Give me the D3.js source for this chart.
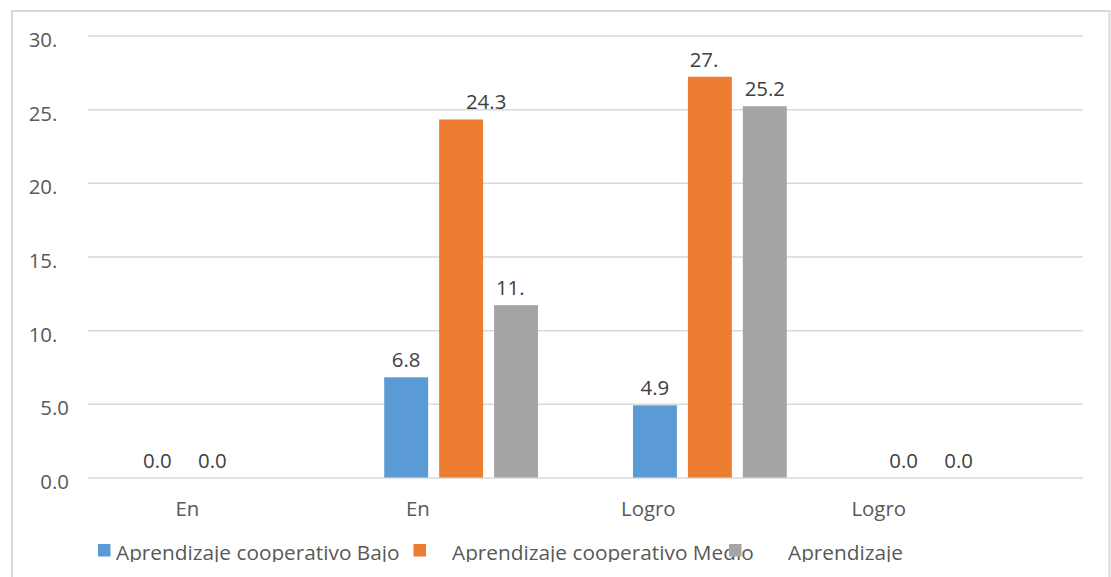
<!DOCTYPE html>
<html>
<head>
<meta charset="utf-8">
<script src="https://cdn.jsdelivr.net/npm/d3@7"></script>
<style>
  body { margin: 0; background: #fff; }
  text { font-family: 'Open Sans', sans-serif; }
</style>
</head>
<body>
<div id="chart"></div>
<script>
// Chart data
const categories = ['En', 'En', 'Logro', 'Logro']
const seriesNames = ['Aprendizaje cooperativo Bajo', 'Aprendizaje cooperativo Medio', 'Aprendizaje']
const bajo = [0.0, 6.8, 4.9, 0.0]
const medio = [0.0, 24.3, 27.2, 0.0]
const alto = [null, 11.7, 25.2, null]
// labels as the original shows them (some are cut short)
const bajoLabels = ['0.0', '6.8', '4.9', '0.0']
const medioLabels = ['0.0', '24.3', '27.', '0.0']
const altoLabels = [null, '11.', '25.2', null]
const yTicks = [0, 5, 10, 15, 20, 25, 30]
const yTickLabels = ['0.0', '5.0', '10.', '15.', '20.', '25.', '30.']

const colors = ['#5B9BD5', '#ED7D31', '#A5A5A5']

const width = 1111,
  height = 577,
  plotLeft = 88,
  plotRight = 1083,
  plotTop = 35.5,
  plotBottom = 477.5

const fontSize = 20.4,
  legendFontSize = 20.8

// one data label was dragged sideways in the original
const labelNudge = { '1-1': 25 }

const fmt = d3.format('.1f')

let svg = d3.select('#chart')
  .append('svg')
  .attr('width', width)
  .attr('height', height)

// chart frame
svg.append('rect')
  .attr('x', 12)
  .attr('y', 11)
  .attr('width', 1097.5)
  .attr('height', 620)
  .attr('fill', 'none')
  .attr('stroke', '#d9d9d9')
  .attr('stroke-width', 2)

let x0 = d3.scaleBand()
  .domain(d3.range(categories.length))
  .range([plotLeft, plotRight])

let x1 = d3.scaleBand()
  .domain(d3.range(seriesNames.length))
  .range([0, x0.bandwidth()])
  .paddingInner(0.2)
  .paddingOuter(0.864)

let yScale = d3.scaleLinear()
  .domain([0, 30])
  .range([plotBottom, plotTop])

// y axis + gridlines
let y_axis = d3.axisLeft(yScale)
  .tickValues(yTicks)
  .tickSize(-(plotRight - plotLeft))
  .tickPadding(19)
  .tickFormat(d => fmt(d))

let yG = svg.append('g')
  .attr('transform', `translate(${plotLeft},0)`)
  .call(y_axis)

yG.select('.domain').remove()
yG.selectAll('.tick line')
  .attr('stroke', '#d9d9d9')
  .attr('stroke-width', 1.5)
yG.selectAll('.tick text')
  .attr('font-size', fontSize)
  .attr('fill', '#595959')
  .attr('dy', 0)
  .attr('y', 11)
  .each(function(d, i) {
    // right-align the full number, then show the cut version
    let full = this.getComputedTextLength()
    d3.select(this)
      .attr('text-anchor', 'start')
      .attr('x', -19 - full)
      .text(yTickLabels[i])
  })

// x axis labels
let x_axis = d3.axisBottom(x0)
  .tickSize(0)
  .tickFormat(i => categories[i])

let xG = svg.append('g')
  .attr('transform', `translate(0,${plotBottom})`)
  .call(x_axis)

xG.select('.domain').remove()
xG.selectAll('.tick text')
  .attr('font-size', fontSize)
  .attr('fill', '#595959')
  .attr('y', 38.5)
  .attr('dy', 0)
  .attr('dx', (d, i) => -25 - 18.3 * i)

// bars
let series = [bajo, medio, alto]
let seriesLabels = [bajoLabels, medioLabels, altoLabels]

let rows = []
series.forEach((vals, s) => {
  vals.forEach((v, c) => {
    rows.push({ s: s, c: c, v: v, label: seriesLabels[s][c] })
  })
})

svg.append('g')
  .selectAll('rect')
  .data(rows.filter(d => d.v !== null))
  .enter()
  .append('rect')
  .attr('x', d => x0(d.c) + x1(d.s))
  .attr('y', d => yScale(d.v))
  .attr('width', x1.bandwidth())
  .attr('height', d => yScale(0) - yScale(d.v))
  .attr('fill', d => colors[d.s])

// data labels
svg.append('g')
  .selectAll('text')
  .data(rows.filter(d => d.label !== null))
  .enter()
  .append('text')
  .attr('font-size', fontSize)
  .attr('fill', '#404040')
  .attr('y', d => yScale(d.v) - 10)
  .text(d => fmt(d.v))
  .each(function(d) {
    let full = this.getComputedTextLength()
    let cx = x0(d.c) + x1(d.s) + x1.bandwidth() / 2 + (labelNudge[d.s + '-' + d.c] || 0)
    d3.select(this)
      .attr('x', cx - full / 2)
      .text(d.label)
  })

// legend (clipped at the bottom like the original)
svg.append('clipPath')
  .attr('id', 'legend-clip')
  .append('rect')
  .attr('x', 0)
  .attr('y', 520)
  .attr('width', width)
  .attr('height', 42)

let legend = svg.append('g')
  .attr('clip-path', 'url(#legend-clip)')

let legendX = i => 98 + i * 315.5

let items = legend.selectAll('g')
  .data(seriesNames)
  .enter()
  .append('g')

items.append('text')
  .attr('x', (d, i) => legendX(i) + 18 + i * 20.5)
  .attr('y', 560)
  .attr('font-size', legendFontSize)
  .attr('fill', '#595959')
  .text(d => d)

items.append('rect')
  .attr('x', (d, i) => legendX(i))
  .attr('y', 544)
  .attr('width', 12.5)
  .attr('height', 12.5)
  .attr('fill', (d, i) => colors[i])
</script>
</body>
</html>
